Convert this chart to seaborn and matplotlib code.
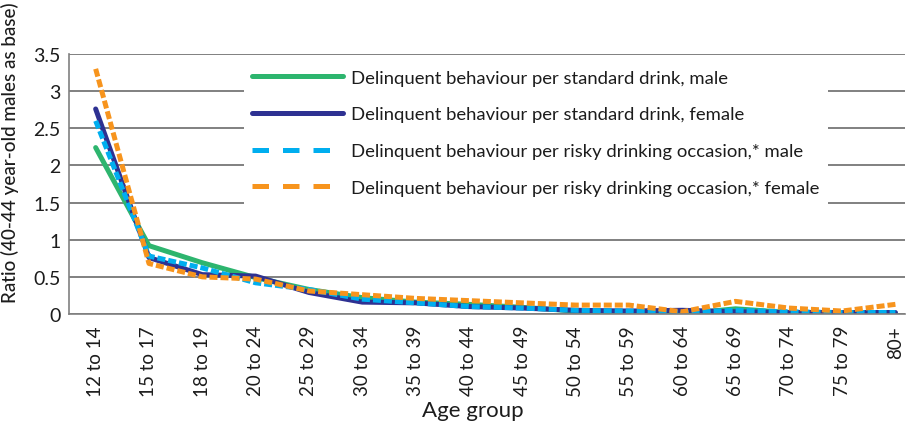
import pandas as pd
import matplotlib.pyplot as plt
from matplotlib.lines import Line2D
import seaborn as sns

# -- Data
age_groups = ["12 to 14", "15 to 17", "18 to 19", "20 to 24", "25 to 29", "30 to 34",
              "35 to 39", "40 to 44", "45 to 49", "50 to 54", "55 to 59", "60 to 64",
              "65 to 69", "70 to 74", "75 to 79", "80+"]

std_male = [2.24, 0.92, 0.69, 0.49, 0.33, 0.22, 0.16, 0.13, 0.09, 0.04, 0.03, 0.00, 0.07, 0.02, 0.00, 0.01]
std_female = [2.76, 0.76, 0.53, 0.51, 0.29, 0.16, 0.15, 0.10, 0.08, 0.05, 0.04, 0.05, 0.03, 0.02, 0.02, 0.02]
risky_male = [2.60, 0.78, 0.62, 0.42, 0.33, 0.20, 0.15, 0.10, 0.08, 0.05, 0.04, 0.02, 0.05, 0.03, 0.02, 0.02]
risky_female = [3.30, 0.68, 0.50, 0.47, 0.31, 0.26, 0.21, 0.18, 0.15, 0.12, 0.12, 0.03, 0.17, 0.08, 0.04, 0.13]

series_names = ["Delinquent behaviour per standard drink, male",
                "Delinquent behaviour per standard drink, female",
                "Delinquent behaviour per risky drinking occasion,* male",
                "Delinquent behaviour per risky drinking occasion,* female"]
colors = ["#2db56e", "#2e3192", "#00aeef", "#f7941d"]

TEXT = "#1c1c1c"
LW = 3.6


def build_frame():
    rows = []
    for name, vals in zip(series_names, [std_male, std_female, risky_male, risky_female]):
        for i, v in enumerate(vals):
            rows.append({"pos": i, "value": v, "series": name})
    return pd.DataFrame(rows)


def main():
    sns.set_style("white")
    plt.rcParams["font.family"] = ["Lato", "DejaVu Sans"]

    df = build_frame()
    fig = plt.figure(figsize=(9.14, 4.27), dpi=100)
    ax = fig.add_axes([69 / 914, 1 - 315 / 427, (905 - 69) / 914, (315 - 55) / 427])

    sns.lineplot(data=df, x="pos", y="value", hue="series", style="series",
                 hue_order=series_names, style_order=series_names,
                 palette=colors, dashes=["", "", (1.6, 0.6), (1.6, 0.6)],
                 linewidth=LW, ax=ax, legend=False)

    ax.set_ylim(0, 3.5)
    ax.set_xlim(-0.5, 15.18)
    ax.set_yticks([0, 0.5, 1, 1.5, 2, 2.5, 3, 3.5])
    ax.set_yticklabels(["0", "0.5", "1", "1.5", "2", "2.5", "3", "3.5"])
    ax.set_xticks(range(len(age_groups)))
    ax.set_xticklabels(age_groups, rotation=90)
    ax.set_xticks([i + 0.5 for i in range(len(age_groups) - 1)], minor=True)
    ax.tick_params(axis="x", which="major", length=0, pad=8, labelsize=13.5, labelcolor=TEXT)
    ax.tick_params(axis="x", which="minor", length=5, width=1.2, color="#808080", direction="out")
    ax.tick_params(axis="y", length=5, width=1.2, color="#808080", direction="out",
                   labelsize=14, labelcolor=TEXT, pad=1)

    ax.yaxis.grid(True, color="#808080", linewidth=1.4)
    ax.set_axisbelow(True)
    for s in ["top", "right"]:
        ax.spines[s].set_visible(False)
    for s in ["left", "bottom"]:
        ax.spines[s].set_color("#808080")
        ax.spines[s].set_linewidth(1.2)

    ax.set_xlabel("Age group", fontsize=16, color=TEXT)
    ax.xaxis.set_label_coords(0.483, -0.33)
    ax.set_ylabel("Ratio (40-44 year-old males as base)", fontsize=13.6, color=TEXT,
                  fontweight="medium")
    ax.yaxis.set_label_coords(-0.06, 0.625)

    # legend handles: solid lines, and wide-spaced dashes like the original
    handles = []
    for i, c in enumerate(colors):
        if i < 2:
            handles.append(Line2D([], [], color=c, linewidth=LW))
        else:
            handles.append(Line2D([], [], color=c, linewidth=LW, dashes=(3.3, 2.8)))
    leg = ax.legend(handles, series_names, loc="upper left", bbox_to_anchor=(0.209, 0.972),
                    frameon=True, facecolor="white", edgecolor="none", fancybox=False,
                    framealpha=1, fontsize=13.3, handlelength=4.9, handletextpad=0.45,
                    labelspacing=1.12, borderpad=0.45, borderaxespad=0)
    for t in leg.get_texts():
        t.set_color(TEXT)

    fig.savefig("out.png", dpi=100)
    plt.close(fig)


if __name__ == "__main__":
    main()
